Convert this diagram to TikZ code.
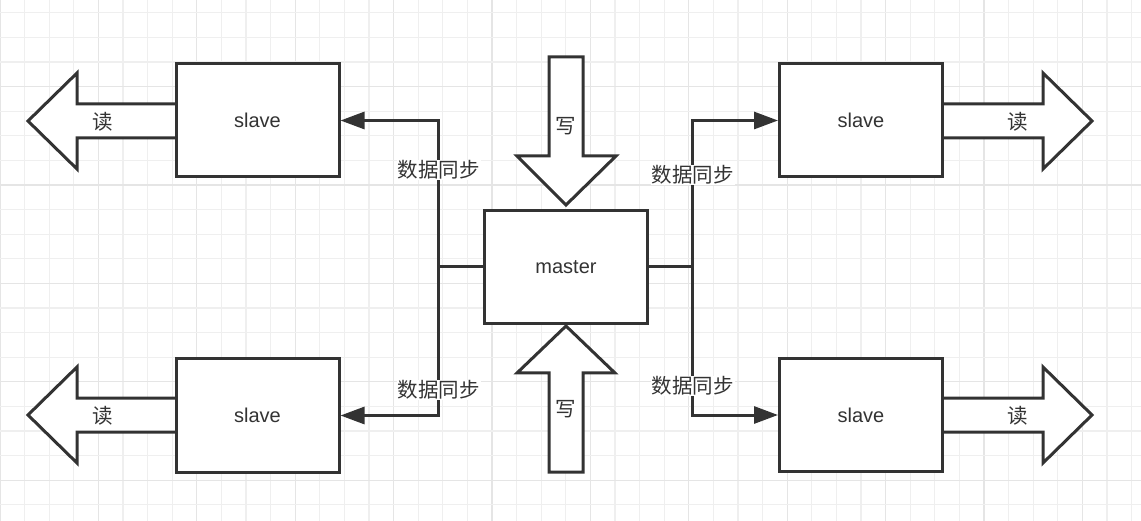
\documentclass[tikz,border=0pt]{standalone}
\usepackage{fontspec}
\setmainfont{Liberation Sans}
\newfontfamily\cjk{Noto Sans CJK SC}
\usetikzlibrary{arrows.meta}
\definecolor{ink}{HTML}{333333}
\definecolor{gridminor}{HTML}{EFEFEF}
\definecolor{gridmajor}{HTML}{E5E5E5}
\tikzset{
  box/.style={draw=ink, line width=3pt, fill=white, minimum width=163pt, minimum height=113pt, inner sep=0pt, text=ink, font=\fontsize{20}{24}\selectfont},
  blockarrow/.style={draw=ink, line width=3pt, fill=white, line join=miter},
  conn/.style={draw=ink, line width=3pt},
  connarrow/.style={conn, -{Triangle[length=24pt,width=17pt]}},
  cjklabel/.style={text=ink, font=\cjk\fontsize{20.5}{24}\selectfont, inner sep=1pt},
  synclabel/.style={cjklabel, fill=white},
}
\begin{document}
\begin{tikzpicture}[x=1pt,y=-1pt]
\useasboundingbox (0,0) rectangle (1141,521);
\fill[white] (0,0) rectangle (1141,521);
% grid
\foreach \k in {0,...,46} {
  \pgfmathtruncatemacro{\m}{mod(\k,4)}
  \ifnum\m=0 \draw[gridmajor, line width=1.2pt] (24.6*\k,0) -- (24.6*\k,521);
  \else \draw[gridminor, line width=1.2pt] (24.6*\k,0) -- (24.6*\k,521); \fi
}
\foreach \j in {1,...,22} {
  \pgfmathtruncatemacro{\m}{mod(\j,4)}
  \ifnum\m=0 \draw[gridmajor, line width=1.2pt] (0,-11.8+24.6*\j) -- (1141,-11.8+24.6*\j);
  \else \draw[gridminor, line width=1.2pt] (0,-11.8+24.6*\j) -- (1141,-11.8+24.6*\j); \fi
}

% block arrows (read)
\draw[blockarrow] (175,104) -- (77,104) -- (77,73) -- (28,121) -- (77,169) -- (77,138) -- (175,138);
\draw[blockarrow] (175,398) -- (77,398) -- (77,367) -- (28,415) -- (77,463) -- (77,432) -- (175,432);
\draw[blockarrow] (944,104) -- (1043,104) -- (1043,73) -- (1092,121) -- (1043,169) -- (1043,138) -- (944,138);
\draw[blockarrow] (944,398) -- (1043,398) -- (1043,367) -- (1092,415) -- (1043,463) -- (1043,432) -- (944,432);
% block arrows (write)
\draw[blockarrow] (549,57) -- (583,57) -- (583,156) -- (616,156) -- (566,205) -- (517,156) -- (549,156) -- cycle;
\draw[blockarrow] (549,472) -- (583,472) -- (583,373) -- (615,373) -- (566,326) -- (517,373) -- (549,373) -- cycle;

% boxes
\node[box] (s1) at (257.5,120.5) {slave};
\node[box] (s2) at (257.5,415.5) {slave};
\node[box] (s3) at (861,120.5) {slave};
\node[box] (s4) at (861,415) {slave};
\node[box] (master) at (566,267) {master};

% arrow texts
\node[cjklabel] (r1) at (103,122) {读};
\node[cjklabel] (r2) at (103,416) {读};
\node[cjklabel] (r3) at (1018,122) {读};
\node[cjklabel] (r4) at (1018,416) {读};
\node[cjklabel] (w1) at (566,126) {写};
\node[cjklabel] (w2) at (566,409) {写};

% connectors
\coordinate (jl) at (438.5,267);
\coordinate (jr) at (692.5,267);
\draw[conn] (master.west) -- (jl);
\draw[conn] (master.east) -- (jr);
\draw[connarrow] (jl) |- (s1.east);
\draw[connarrow] (jl) |- (s2.east);
\draw[connarrow] (jr) |- (s3.west);
\draw[connarrow] (jr) |- (s4.west);

% sync labels
\node[synclabel] (l1) at (438.5,170) {数据同步};
\node[synclabel] (l2) at (438.5,390) {数据同步};
\node[synclabel] (l3) at (692.5,175) {数据同步};
\node[synclabel] (l4) at (692.5,386) {数据同步};
\end{tikzpicture}
\end{document}
